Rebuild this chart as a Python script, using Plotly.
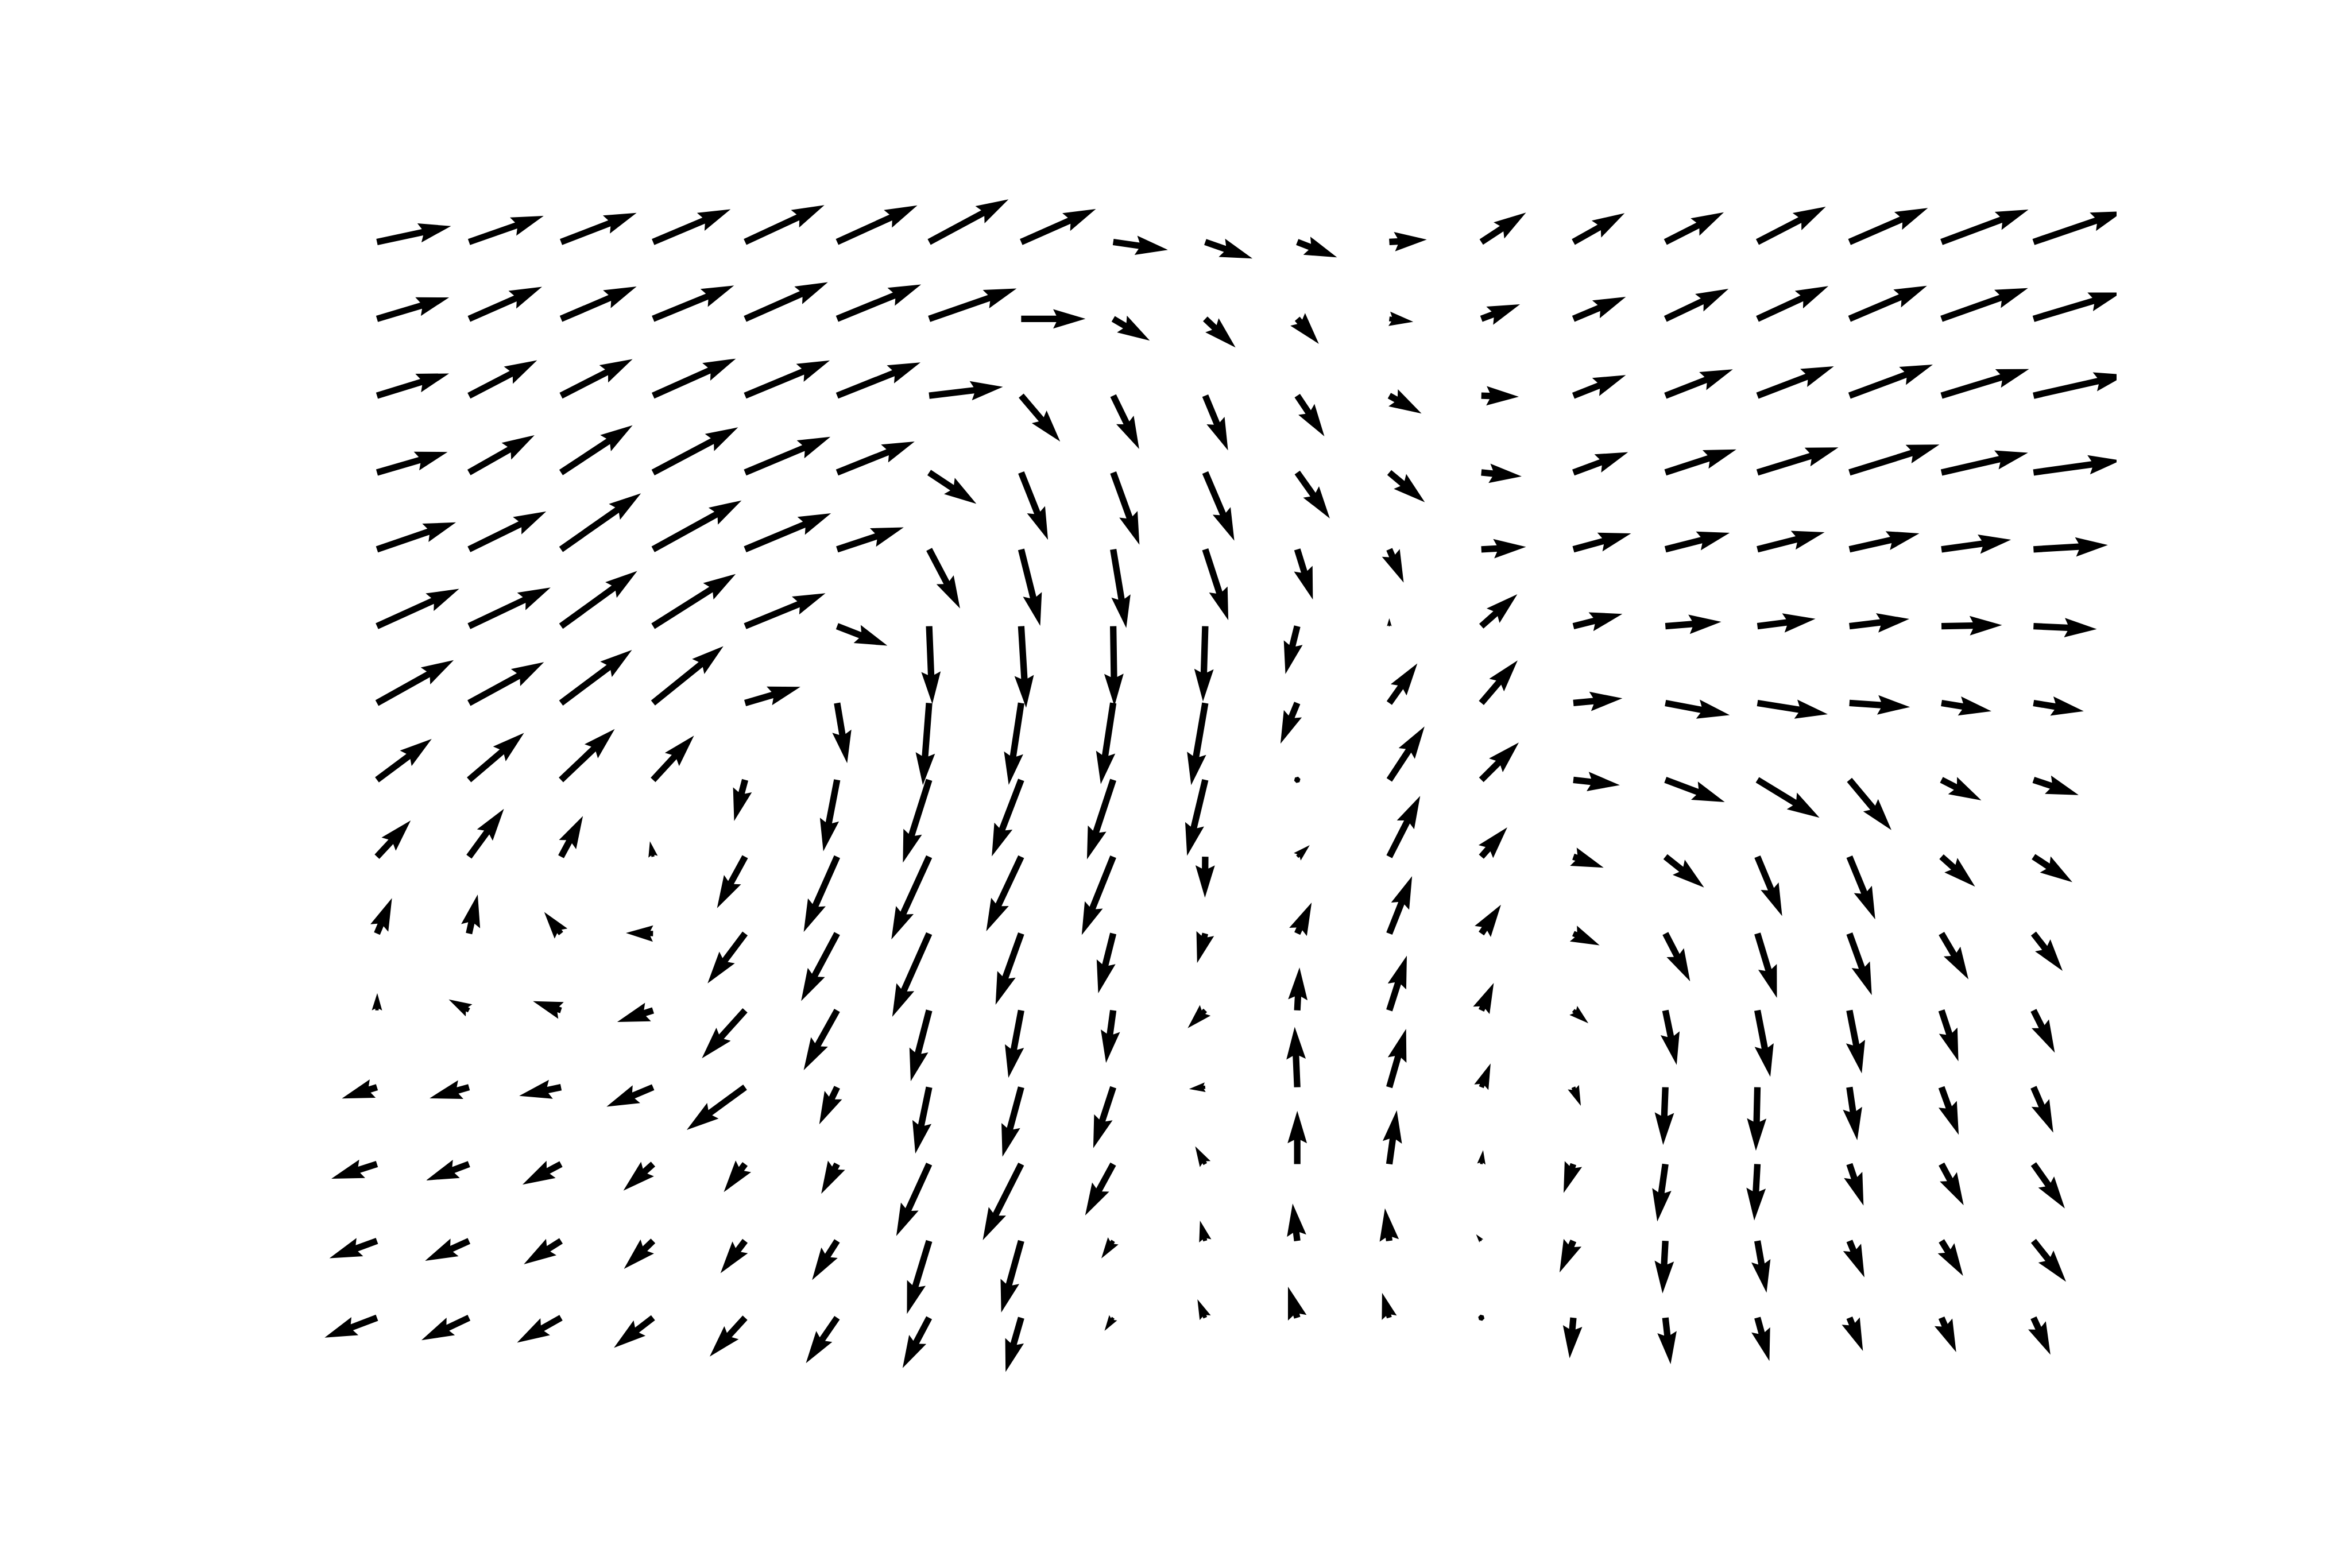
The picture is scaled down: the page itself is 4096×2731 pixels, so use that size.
import numpy as np
import plotly.graph_objects as go

# Vector field (rows listed top -> bottom, columns left -> right)
# U: horizontal component, V: vertical component (positive = up)
U_ROWS = [
    [49.4, 49.8, 50.4, 51.7, 52.9, 53.5, 52.9, 49.8, 36.5, 31.5, 26.5, 25.0, 29.8, 34.2, 39.0, 45.6, 52.3, 58.0, 60.0],
    [48.1, 48.7, 50.4, 54.0, 55.2, 56.0, 58.3, 42.9, 24.4, 20.2, 14.4, 16.0, 25.8, 35.0, 42.1, 47.3, 51.7, 57.7, 58.5],
    [48.1, 45.4, 47.7, 55.2, 56.5, 55.6, 49.2, 26.0, 17.3, 15.2, 18.1, 21.5, 25.0, 35.0, 45.0, 51.0, 55.6, 58.4, 62.0],
    [47.1, 43.7, 47.7, 56.7, 56.9, 51.7, 31.5, 17.9, 17.5, 19.4, 21.7, 23.7, 26.9, 36.5, 47.3, 54.0, 60.0, 57.7, 58.2],
    [52.7, 51.5, 53.3, 59.0, 57.3, 44.4, 20.6, 12.7, 8.7, 15.4, 10.4, 9.6, 29.8, 38.5, 42.9, 44.8, 46.6, 46.4, 49.6],
    [54.8, 54.4, 50.8, 55.1, 53.6, 33.5, 2.1, 3.3, 0.8, -1.5, -7.9, 0.0, 24.0, 32.7, 37.3, 38.7, 39.9, 40.4, 42.2],
    [51.2, 50.0, 47.3, 46.9, 36.9, 6.7, -4.2, -8.3, -8.3, -9.4, -11.2, 18.7, 24.2, 32.7, 42.9, 46.9, 40.4, 33.3, 33.5],
    [36.5, 36.7, 35.8, 27.3, -7.3, -9.2, -17.5, -19.6, -17.5, -12.1, 0.3, 23.5, 25.0, 31.0, 39.6, 41.4, 28.0, 26.6, 30.1],
    [22.5, 23.3, 14.6, -2.1, -18.7, -22.3, -25.2, -23.3, -21.0, -0.2, 8.3, 20.6, 17.3, 20.2, 25.8, 16.5, 17.2, 22.4, 25.9],
    [10.0, 5.8, -11.2, -18.1, -25.0, -24.0, -24.6, -17.1, -10.0, -5.4, 9.6, 15.2, 13.1, 17.5, 16.5, 13.0, 14.9, 18.0, 19.4],
    [0.2, -13.5, -18.7, -23.9, -28.8, -22.3, -12.3, -8.5, -4.8, -11.7, 1.5, 11.7, 8.3, 10.0, 7.5, 8.6, 8.2, 11.3, 14.2],
    [-23.4, -26.3, -27.9, -31.0, -38.9, -11.9, -9.2, -12.5, -13.3, -10.8, -1.7, 11.2, 6.2, 5.0, -1.5, -1.0, 5.2, 11.5, 13.2],
    [-30.4, -28.6, -25.7, -19.8, -14.2, -10.6, -21.9, -25.6, -18.7, -6.7, 0.0, 5.0, 1.2, -6.5, -5.4, -2.1, 9.4, 14.8, 20.9],
    [-31.7, -29.3, -24.8, -19.4, -16.4, -16.7, -14.8, -13.3, -7.9, -3.5, -3.1, -2.9, -3.5, -9.2, -1.9, 6.1, 10.0, 14.4, 21.7],
    [-34.9, -31.7, -29.3, -26.1, -23.6, -20.8, -17.7, -10.4, -5.8, -5.2, -6.2, -4.8, 0.2, -2.5, 3.5, 8.0, 9.0, 9.8, 11.3],
]
V_ROWS = [
    [10.6, 17.4, 19.4, 21.8, 24.6, 24.4, 28.4, 22.0, -5.3, -11.0, -10.3, 1.6, 19.6, 19.2, 19.8, 23.5, 22.7, 21.6, 20.5],
    [14.3, 21.4, 21.6, 22.2, 24.4, 22.9, 20.2, 0.0, -14.5, -19.1, -16.7, -2.0, 9.7, 14.7, 20.0, 21.8, 22.0, 20.5, 17.5],
    [14.8, 23.6, 24.4, 24.7, 23.5, 22.2, 5.9, -30.6, -35.6, -36.5, -27.1, -11.9, -0.7, 13.7, 17.6, 19.6, 20.7, 17.8, 14.0],
    [13.7, 24.9, 31.5, 30.1, 23.8, 20.7, -20.9, -44.9, -48.2, -45.5, -30.6, -19.8, -2.6, 13.6, 15.4, 16.7, 18.7, 13.2, 8.1],
    [18.0, 25.3, 37.4, 32.6, 24.0, 14.7, -39.4, -51.0, -52.4, -47.3, -33.5, -22.2, 1.6, 10.6, 11.0, 11.4, 10.6, 6.4, 2.9],
    [24.9, 25.8, 36.8, 34.8, 22.0, -13.0, -51.9, -54.4, -53.3, -50.2, -31.9, 5.3, 21.3, 8.2, 2.9, 4.9, 4.8, 0.7, -2.0],
    [28.6, 27.3, 35.4, 37.9, 10.8, -40.1, -54.8, -54.6, -54.1, -54.8, -27.1, 26.4, 28.4, 3.1, -8.1, -7.5, -2.7, -5.5, -5.5],
    [27.3, 31.3, 33.9, 29.5, -27.5, -47.7, -55.2, -51.0, -53.0, -50.6, -0.3, 35.6, 24.9, -3.5, -14.8, -25.3, -33.5, -13.7, -10.1],
    [24.2, 31.9, 27.1, 10.3, -34.3, -50.2, -55.2, -49.7, -52.2, -27.3, 7.7, 40.5, 19.6, -7.3, -20.5, -39.6, -41.8, -20.0, -17.0],
    [23.6, 26.0, 14.3, 0.4, -33.2, -45.0, -55.5, -47.5, -39.8, -19.6, 20.7, 38.3, 19.2, -7.9, -31.9, -42.9, -41.1, -30.6, -24.9],
    [11.5, 7.3, 6.1, -7.7, -32.0, -39.9, -47.3, -45.0, -35.0, -11.9, 28.6, 36.5, 18.3, -8.6, -36.4, -44.3, -42.0, -34.0, -28.2],
    [-7.5, -7.4, -5.8, -13.0, -28.5, -24.7, -44.3, -46.4, -40.6, -1.2, 40.3, 38.9, 15.8, -12.4, -38.5, -42.4, -35.4, -31.7, -30.3],
    [-9.8, -10.9, -13.7, -17.7, -18.7, -19.8, -48.0, -50.8, -34.3, 11.9, 35.5, 35.9, 9.3, -19.3, -38.3, -37.6, -27.7, -27.5, -29.6],
    [-11.6, -13.3, -15.6, -18.7, -21.5, -26.1, -48.7, -47.8, -11.7, 13.5, 24.9, 21.7, 4.4, -21.0, -35.0, -34.5, -24.3, -23.3, -27.3],
    [-13.3, -15.0, -16.6, -20.1, -25.9, -30.3, -33.6, -36.1, -8.8, 12.3, 20.7, 16.6, 0.2, -27.0, -31.0, -28.9, -22.2, -22.9, -24.7],
]
X_GRID = list(range(19))          # column positions
Y_GRID = list(range(14, -1, -1))  # row positions, top row first

# ---- layout (pixels) ----
W, H = 4096, 2731
ML, MR, MT, MB = 512.0, 409.6, 327.7, 300.7
plot_w = W - ML - MR
plot_h = H - MT - MB
# tail position of first column / top row in pixels, and spacing
x0_px, dx_px = 656.5, 160.29
y0_px, dy_px = 421.2, 133.87
x_range = [(ML - x0_px) / dx_px, (W - MR - x0_px) / dx_px]
y_top = 14 + (y0_px - MT) / dy_px
y_bot = 14 - (H - MB - y0_px) / dy_px
y_range = [y_bot, y_top]

SCALE = W / 1568.0  # vector units -> pixels
U = np.array(U_ROWS)
V = np.array(V_ROWS)
N = U.size
w = 0.06 * plot_w / np.sqrt(N)  # matplotlib default shaft width

HL, HAL, HW = 5.0, 4.5, 3.0
xs, ys = [], []
for r, yv in enumerate(Y_GRID):
    for c, xv in enumerate(X_GRID):
        ux = U[r, c] * SCALE
        uy = V[r, c] * SCALE
        L = np.hypot(ux, uy) / w
        th = np.arctan2(uy, ux)
        if L < 1.0:
            t = np.arange(0, 7) * np.pi / 3
            X = 0.5 * np.cos(t)
            Y = 0.5 * np.sin(t)
        elif L < HL:
            s = L / HL
            X = s * np.array([0, HL - HAL, 0, HL, 0, HL - HAL, 0, 0])
            Y = s * 0.5 * np.array([1, 1, HW, 0, -HW, -1, -1, 1])
        else:
            X = np.array([0, L - HAL, L - HL, L, L - HL, L - HAL, 0, 0])
            Y = 0.5 * np.array([1, 1, HW, 0, -HW, -1, -1, 1])
        cs, sn = np.cos(th), np.sin(th)
        px = (X * cs - Y * sn) * w
        py = (X * sn + Y * cs) * w
        xs.extend((xv + px / dx_px).tolist())
        ys.extend((yv + py / dy_px).tolist())
        xs.append(None)
        ys.append(None)

fig = go.Figure(go.Scatter(
    x=xs, y=ys, mode="lines", fill="toself", fillcolor="black",
    line=dict(width=0, color="black"), hoverinfo="skip", showlegend=False,
))
fig.update_layout(
    width=W, height=H,
    margin=dict(l=ML, r=MR, t=MT, b=MB, pad=0),
    paper_bgcolor="white", plot_bgcolor="white",
    xaxis=dict(range=x_range, visible=False, showgrid=False, zeroline=False, fixedrange=True),
    yaxis=dict(range=y_range, visible=False, showgrid=False, zeroline=False, fixedrange=True),
)
fig.write_html("out.html")
